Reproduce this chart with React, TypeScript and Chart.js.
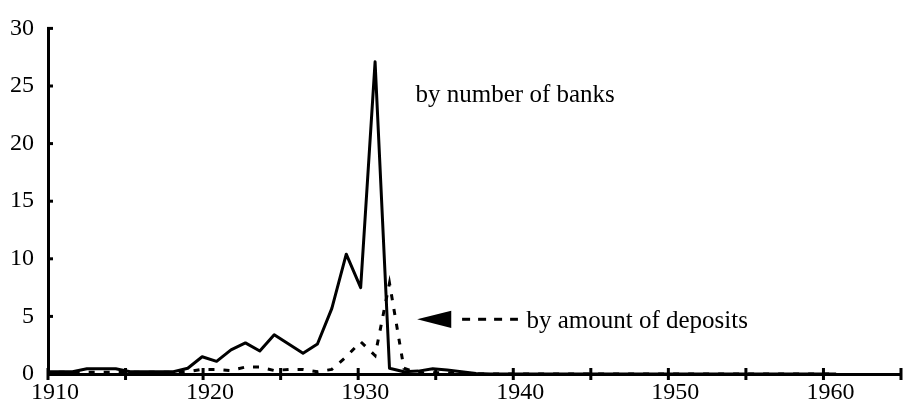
import { useEffect, useRef } from "react";
import { Chart, registerables } from "chart.js";

Chart.register(...registerables);

// Years of the series (data years)
const years = [
  1910, 1911, 1912, 1913, 1914, 1915, 1916, 1917, 1918, 1919,
  1920, 1921, 1922, 1923, 1924, 1925, 1926, 1927, 1928, 1929,
  1930, 1931, 1932, 1933, 1934, 1935, 1936, 1937, 1938, 1939,
  1940, 1941, 1942, 1943, 1944, 1945, 1946, 1947, 1948, 1949,
  1950, 1951, 1952, 1953, 1954, 1955, 1956, 1957, 1958, 1959,
  1960, 1961, 1962, 1963, 1964, 1965,
];

// Bank failures, % by number of banks (solid line)
const banksPct = [
  0.2, 0.2, 0.2, 0.45, 0.45, 0.45, 0.2, 0.2, 0.2, 0.2,
  0.5, 1.5, 1.1, 2.1, 2.7, 2.0, 3.4, 2.6, 1.8, 2.6,
  5.7, 10.4, 7.5, 27.1, 0.5, 0.2, 0.25, 0.45, 0.35, 0.2,
  0.05, 0, 0, 0, 0, 0, 0, 0, 0, 0,
  0, 0, 0, 0, 0, 0, 0, 0, 0, 0,
  0, 0, 0, 0, 0, 0,
];

// Bank failures, % by amount of deposits (dotted line)
const depositsPct = [
  0.15, 0.15, 0.15, 0.15, 0.15, 0.15, 0.15, 0.15, 0.15, 0.15,
  0.2, 0.4, 0.4, 0.3, 0.6, 0.6, 0.3, 0.4, 0.4, 0.2,
  0.4, 1.5, 2.8, 1.6, 7.9, 0.5, 0.1, 0.1, 0.1, 0.05,
  0, 0, 0, 0, 0, 0, 0, 0, 0, 0,
  0, 0, 0, 0, 0, 0, 0, 0, 0, 0,
  0, 0, 0, 0, 0, 0,
];

// Axis ranges / ticks
const xAxisMin = 1910;
const xAxisMax = 1965;
const xTickStep = 5;
const xLabelStep = 10;
const yAxisMin = 0;
const yAxisMax = 30;
const yTickStep = 5;

// The series are drawn on their own (hidden) year scale, as in the original figure
const dataAxisMin = 1910.3;
const dataAxisMax = 1969.5;

const banksText = "by number of banks";
const depositsText = "by amount of deposits";

const FONT = '"Liberation Serif", "Times New Roman", Times, serif';

const decorations = {
  id: "decorations",
  afterDatasetsDraw(chart: any) {
    const { ctx, chartArea, scales } = chart;
    const x = scales.x;
    const y = scales.y;
    ctx.save();
    ctx.strokeStyle = "#000";
    ctx.fillStyle = "#000";
    ctx.lineWidth = 3;
    ctx.setLineDash([]);
    // x tick marks crossing the axis
    x.ticks.forEach((t: any) => {
      const px = x.getPixelForValue(t.value);
      ctx.beginPath();
      ctx.moveTo(px, chartArea.bottom - 6);
      ctx.lineTo(px, chartArea.bottom + 6);
      ctx.stroke();
    });
    // y tick marks pointing inward
    y.ticks.forEach((t: any) => {
      const py = y.getPixelForValue(t.value);
      ctx.beginPath();
      ctx.moveTo(chartArea.left - 1, py);
      ctx.lineTo(chartArea.left + 5, py);
      ctx.stroke();
    });

    // annotations
    ctx.font = `25px ${FONT}`;
    ctx.textAlign = "left";
    ctx.textBaseline = "alphabetic";
    ctx.fillText(banksText, x.getPixelForValue(1933.7), y.getPixelForValue(23.6));
    ctx.fillText(depositsText, x.getPixelForValue(1940.85), y.getPixelForValue(4.0));

    // arrow pointing to the deposits line
    const tipX = x.getPixelForValue(1933.8);
    const tipY = y.getPixelForValue(4.75);
    const baseX = x.getPixelForValue(1936.0);
    const half = Math.abs(y.getPixelForValue(0.75) - y.getPixelForValue(0));
    ctx.beginPath();
    ctx.moveTo(tipX, tipY);
    ctx.lineTo(baseX, tipY - half);
    ctx.lineTo(baseX, tipY + half);
    ctx.closePath();
    ctx.fill();
    ctx.setLineDash([8, 8]);
    ctx.beginPath();
    ctx.moveTo(x.getPixelForValue(1936.7), tipY);
    ctx.lineTo(x.getPixelForValue(1940.3), tipY);
    ctx.stroke();
    ctx.restore();
  },
};

export default function App() {
  const canvasRef = useRef<HTMLCanvasElement | null>(null);

  useEffect(() => {
    if (!canvasRef.current) return;
    const chart = new Chart(canvasRef.current, {
      type: "line",
      data: {
        datasets: [
          {
            label: "by number of banks",
            data: years.map((yr, i) => ({ x: yr, y: banksPct[i] })),
            xAxisID: "xd",
            yAxisID: "y",
            borderColor: "#000",
            borderWidth: 3,
            borderJoinStyle: "round",
            pointRadius: 0,
            tension: 0,
            fill: false,
          },
          {
            label: "by amount of deposits",
            data: years.map((yr, i) => ({ x: yr, y: depositsPct[i] })),
            xAxisID: "xd",
            yAxisID: "y",
            borderColor: "#000",
            borderWidth: 3,
            borderDash: [6, 9],
            borderCapStyle: "butt",
            pointRadius: 0,
            tension: 0,
            fill: false,
          },
        ],
      },
      options: {
        animation: false,
        responsive: true,
        maintainAspectRatio: false,
        layout: { padding: { top: 21, right: 1, left: 0, bottom: 0 } },
        plugins: {
          legend: { display: false },
          tooltip: { enabled: false },
          title: { display: false },
        },
        scales: {
          x: {
            type: "linear",
            position: "bottom",
            min: xAxisMin,
            max: xAxisMax,
            grid: { display: false, drawTicks: false },
            border: { display: true, color: "#000", width: 3 },
            ticks: {
              stepSize: xTickStep,
              autoSkip: false,
              maxRotation: 0,
              labelOffset: 7,
              padding: 4,
              color: "#000",
              font: { family: FONT, size: 24 },
              callback: (v: any) => (Number(v) % xLabelStep === 0 ? String(v) : ""),
            },
            afterFit: (scale: any) => {
              scale.height = 29;
            },
          },
          xd: {
            type: "linear",
            display: false,
            min: dataAxisMin,
            max: dataAxisMax,
          },
          y: {
            type: "linear",
            min: yAxisMin,
            max: yAxisMax,
            grid: { display: false, drawTicks: false },
            border: { display: true, color: "#000", width: 3 },
            ticks: {
              stepSize: yTickStep,
              padding: 14,
              color: "#000",
              font: { family: FONT, size: 24 },
            },
            afterFit: (scale: any) => {
              scale.width = 48;
            },
          },
        },
      },
      plugins: [decorations],
    });
    return () => chart.destroy();
  }, []);

  return (
    <div style={{ position: "fixed", left: 0, top: 0, width: 905, height: 403, background: "#fff" }}>
      <canvas ref={canvasRef} />
    </div>
  );
}
